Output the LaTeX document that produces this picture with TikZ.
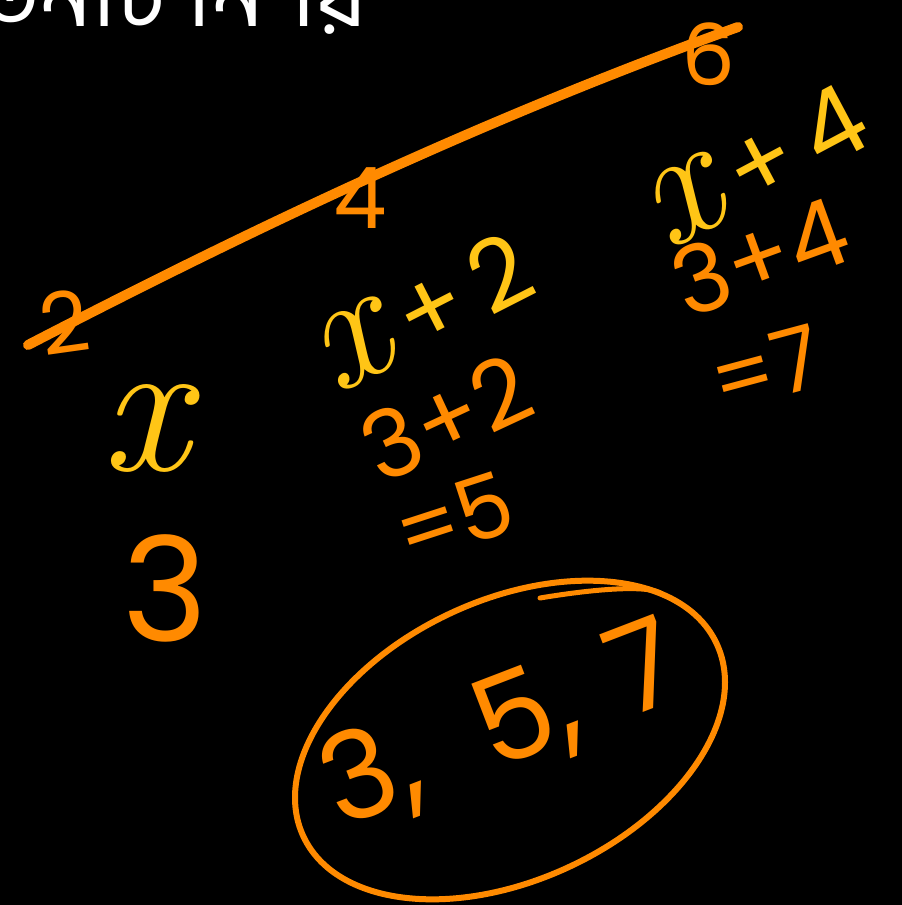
\documentclass[tikz,border=0pt]{standalone}
\usepackage{fontspec}
\setmainfont{Poppins}
\newfontfamily\bn[Script=Bengali]{Hind Siliguri}
\newfontfamily\lmr{Latin Modern Roman}
\usetikzlibrary{shapes.geometric}
\definecolor{org}{HTML}{FF8A00}
\definecolor{yel}{HTML}{FFC516}
\newcommand{\vx}[1]{{\lmr\itshape\fontsize{#1}{#1}\selectfont x}}
\tikzset{
  hw/.style={inner sep=0pt, font=\fontsize{#1}{#1}\selectfont},
  ink/.style={line width=#1, line cap=round, line join=round},
}
\begin{document}
\begin{tikzpicture}[x=1pt,y=1pt]
\fill[black] (0,0) rectangle (902,-905);
\useasboundingbox (0,0) rectangle (902,-905);
\begin{scope}
\clip (0,0) rectangle (902,-905);
\node[white, anchor=base east, inner sep=0pt, font=\bn\fontsize{92}{92}\selectfont] (title) at (368,-26) {সংখ্যা তিনটি নির্ণয়};
% number line
\coordinate (L1) at (28,-345);
\coordinate (L2) at (738,-27);
\draw[org, ink=10] (L1) .. controls (250,-230) and (480,-120) .. (L2);
\node[org, hw=85, rotate=8] (t2) at (64,-322) {2};
\node[org, hw=85] (t4) at (360,-198) {4};
\node[org, hw=85] (t6) at (708,-54) {6};
% column 1
\node[yel, inner sep=0pt] (x1) at (145,-428) {\vx{195}};
\node[org, hw=145] (three) at (165,-588) {3};
% column 2
\node[yel, hw=98, rotate=27] (xp2) at (422,-312) {\vx{165}\,+\,2};
\node[org, hw=94, rotate=25] (e32) at (446,-418) {3+2};
\node[org, hw=88, rotate=18] (eq5) at (454,-518) {=5};
% column 3
\node[yel, hw=98, rotate=28] (xp4) at (755,-165) {\vx{165}\,+\,4};
\node[org, hw=94, rotate=20] (e34) at (760,-257) {3+4};
\node[org, hw=88, rotate=15] (eq7) at (766,-368) {=7};
% answer
\node[draw=org, ink=6, ellipse, minimum width=456, minimum height=280, rotate=25] (ring) at (510,-740) {};
\draw[org, ink=5] (540,-598) .. controls (600,-588) and (650,-585) .. (662,-594);
\node[org, hw=122, rotate=21] (ans) at (502,-728) {3,\hspace{0.55em}5,\hspace{0.35em}7};
\end{scope}
\end{tikzpicture}
\end{document}
